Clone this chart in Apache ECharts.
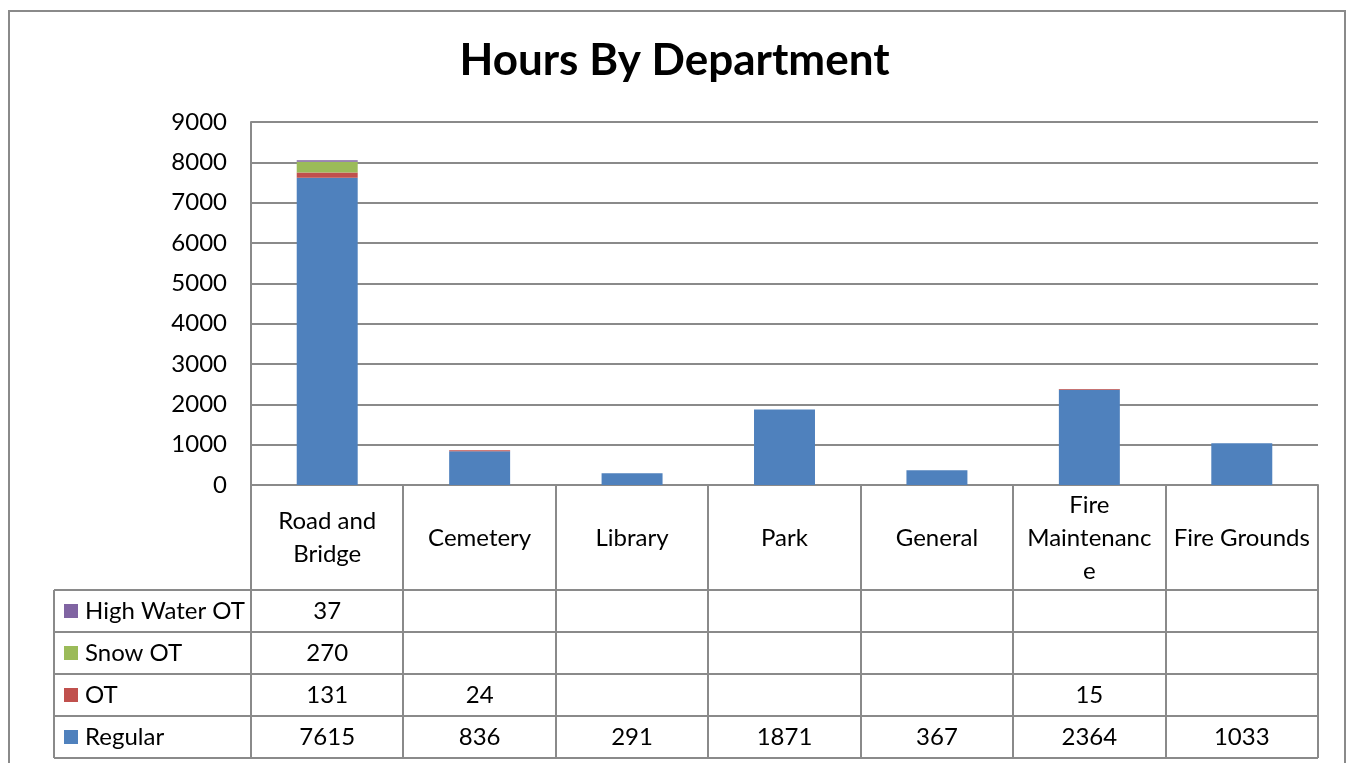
<!DOCTYPE html>
<html>
<head>
<meta charset="utf-8">
<script src="https://cdn.jsdelivr.net/npm/echarts@6/dist/echarts.min.js"></script>
<style>
  html, body { margin: 0; padding: 0; background: #fff; }
  #chart { width: 1349px; height: 763px; }
</style>
</head>
<body>
<div id="chart"></div>
<script>
// departments and the text shown in the table header
const departments = ['Road and Bridge', 'Cemetery', 'Library', 'Park', 'General', 'Fire Maintenance', 'Fire Grounds'];
const deptLabels = ['Road and\nBridge', 'Cemetery', 'Library', 'Park', 'General', 'Fire\nMaintenanc\ne', 'Fire Grounds'];

// hours per series (null = empty cell)
const regular     = [7615, 836, 291, 1871, 367, 2364, 1033];
const ot          = [131, 24, null, null, null, 15, null];
const snowOT      = [270, null, null, null, null, null, null];
const highWaterOT = [37, null, null, null, null, null, null];

const yMin = 0, yMax = 9000, yStep = 1000;

const FONT = 'Lato, "Open Sans", sans-serif';
const GRAY = '#8a8a8a';

// stacked bottom → top; table rows are listed top → bottom
const seriesDefs = [
  { name: 'Regular', data: regular, color: '#4F81BD' },
  { name: 'OT', data: ot, color: '#C0504D' },
  { name: 'Snow OT', data: snowOT, color: '#9BBB59' },
  { name: 'High Water OT', data: highWaterOT, color: '#8064A2' }
];

const chart = echarts.init(document.getElementById('chart'));

chart.setOption({
  animation: false,
  title: {
    text: 'Hours By Department',
    left: 'center',
    top: 34,
    textStyle: { fontFamily: FONT, fontWeight: 'bold', fontSize: 44, color: '#000' }
  },
  grid: { left: 251, right: 31, top: 122, bottom: 278 },
  xAxis: {
    type: 'category',
    data: departments,
    axisLine: { lineStyle: { color: GRAY, width: 2 } },
    axisTick: { show: false },
    axisLabel: {
      formatter: (v, i) => deptLabels[i],
      interval: 0,
      margin: 53,
      verticalAlign: 'middle',
      fontFamily: FONT,
      fontSize: 24,
      lineHeight: 33,
      color: '#000'
    }
  },
  yAxis: {
    type: 'value',
    min: yMin,
    max: yMax,
    interval: yStep,
    axisLine: { show: true, lineStyle: { color: GRAY, width: 2 } },
    axisTick: { show: false },
    splitLine: { lineStyle: { color: GRAY, width: 2 } },
    axisLabel: { formatter: v => String(v), fontFamily: FONT, fontSize: 24, color: '#000', margin: 24 }
  },
  series: seriesDefs.map(s => ({
    name: s.name,
    type: 'bar',
    stack: 'hours',
    barWidth: '40%',
    data: s.data,
    itemStyle: { color: s.color }
  }))
});

// data table below the axis
const axisY = 485, tableTop = 590, rowH = 42, legendLeft = 54;
const rows = seriesDefs.slice().reverse();
const tableBottom = tableTop + rows.length * rowH;
const centers = departments.map((d, i) => chart.convertToPixel({ xAxisIndex: 0 }, i));
const band = centers[1] - centers[0];
const plotLeft = centers[0] - band / 2;
const plotRight = centers[centers.length - 1] + band / 2;
const graphics = [];

// outer chart border
graphics.push({
  type: 'rect',
  shape: { x: 9, y: 11, width: 1336, height: 800 },
  style: { fill: null, stroke: GRAY, lineWidth: 2 },
  silent: true
});

// horizontal table lines
for (let r = 0; r <= rows.length; r++) {
  const y = tableTop + r * rowH;
  graphics.push({
    type: 'line',
    shape: { x1: legendLeft, y1: y, x2: plotRight, y2: y },
    style: { stroke: GRAY, lineWidth: 2 }
  });
}
// vertical table lines at category boundaries
for (let i = 0; i <= departments.length; i++) {
  const x = Math.round(plotLeft + i * band);
  graphics.push({
    type: 'line',
    shape: { x1: x, y1: axisY, x2: x, y2: tableBottom },
    style: { stroke: GRAY, lineWidth: 2 }
  });
}
graphics.push({
  type: 'line',
  shape: { x1: legendLeft, y1: tableTop, x2: legendLeft, y2: tableBottom },
  style: { stroke: GRAY, lineWidth: 2 }
});

rows.forEach((s, r) => {
  const cy = tableTop + r * rowH + rowH / 2;
  graphics.push({
    type: 'rect',
    shape: { x: 64, y: cy - 7, width: 14, height: 14 },
    style: { fill: s.color }
  });
  graphics.push({
    type: 'text',
    x: 85, y: cy,
    style: { text: s.name, fontFamily: FONT, fontSize: 24, fill: '#000', verticalAlign: 'middle', align: 'left' }
  });
  s.data.forEach((v, i) => {
    if (v == null) return;
    graphics.push({
      type: 'text',
      x: centers[i], y: cy,
      style: { text: String(v), fontFamily: FONT, fontSize: 24, fill: '#000', align: 'center', verticalAlign: 'middle' }
    });
  });
});

chart.setOption({ graphic: graphics });
</script>
</body>
</html>
